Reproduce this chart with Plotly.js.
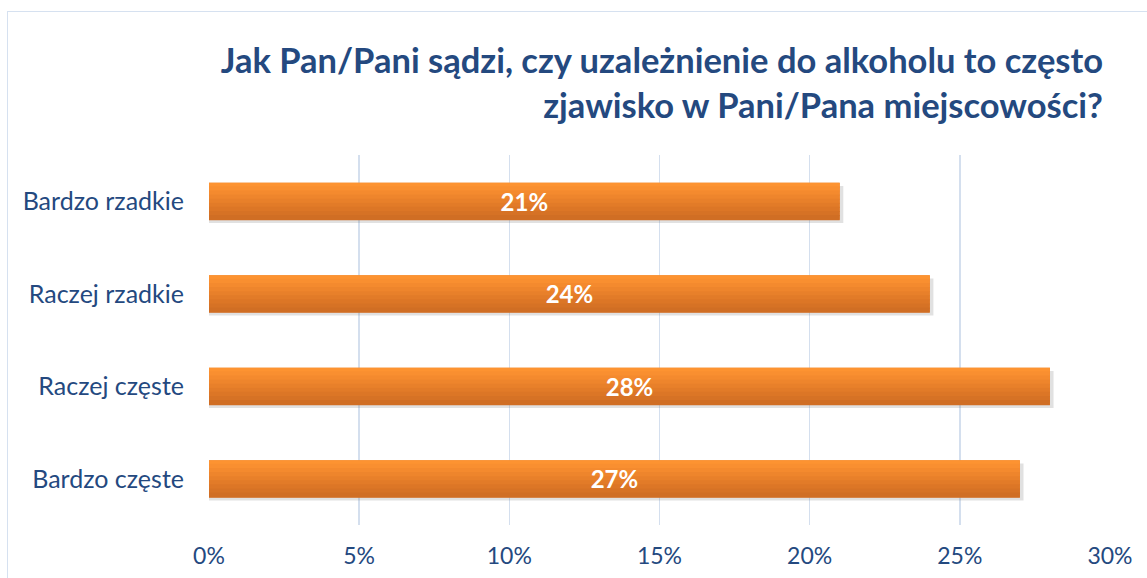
<!DOCTYPE html>
<html><head><meta charset="utf-8">
<script src="https://cdn.plot.ly/plotly-3.0.1.min.js"></script>
<style>body{margin:0;padding:0;overflow:hidden;background:#fff}#wrap{position:relative;width:1147px;height:578px}
#frame{position:absolute;left:7px;top:11px;width:1160px;height:600px;border:1.5px solid #D6E1F0;pointer-events:none;z-index:5}</style>
</head><body><div id="wrap"><div id="chart" style="width:1147px;height:578px"></div><div id="frame"></div></div>
<script>
const categories = ["Bardzo rzadkie", "Raczej rzadkie", "Raczej częste", "Bardzo częste"];
const values = [21, 24, 28, 27];
const tickVals = [0, 5, 10, 15, 20, 25, 30];
const tickText = ["0%", "5%", "10%", "15%", "20%", "25%", "30%"];

const FONT = "Lato, 'Open Sans', sans-serif";
const BLUE = "#24497F";
const barW = 0.4;
const stripeColors = ["#FD9331","#F98F30","#F48A2E","#EE852C","#E8802A","#E27B28","#DC7626","#D67225","#D06E24"];
const n = stripeColors.length;
const traces = [];
traces.push({type:'bar', orientation:'h', y:categories, x:values.map(v=>v+0.12), width:barW, offset:-barW/2+0.035,
  marker:{color:'rgba(120,120,120,0.22)', line:{width:0}}, hoverinfo:'skip', showlegend:false});
traces.push({type:'bar', orientation:'h', y:categories, x:values, width:barW, offset:-barW/2,
  marker:{color:'#E8802A', line:{width:0}}, hoverinfo:'skip', showlegend:false});
stripeColors.forEach((c,i)=>{
  traces.push({type:'bar', orientation:'h', y:categories, x:values, width:barW/n+0.012,
    offset:-barW/2 + i*barW/n - (i===0?0:0.006), marker:{color:c, line:{width:0}}, hoverinfo:'skip', showlegend:false});
});
traces.push({type:'bar', orientation:'h', y:categories, x:values, width:barW, offset:-barW/2,
  marker:{color:'rgba(0,0,0,0)', line:{width:0}}, text:values.map(v=>v+'%'), textposition:'inside',
  insidetextanchor:'middle', textangle:0,
  textfont:{family:FONT, size:24, color:'#FFFFFF', weight:'bold'}, showlegend:false});

const layout = {
  width:1147, height:578,
  margin:{l:209, r:37, t:155, b:53},
  paper_bgcolor:'#FFFFFF', plot_bgcolor:'#FFFFFF',
  barmode:'overlay',
  title:{text:"<b>Jak Pan/Pani sądzi, czy uzależnienie do alkoholu to często<br>zjawisko w Pani/Pana miejscowości?</b>",
    font:{family:FONT, size:34.5, color:BLUE}, xref:'container', x:1103/1147, xanchor:'right', align:'right',
    yref:'container', y:1-73/578, yanchor:'top'},
  xaxis:{range:[0,30], tickvals:tickVals, ticktext:tickText, showgrid:true, gridcolor:'#D4DFEE', gridwidth:1.5,
    zeroline:false, showline:false, ticks:'', ticklabelstandoff:15,
    tickfont:{family:FONT, size:23, color:BLUE}, fixedrange:true},
  yaxis:{autorange:'reversed', showgrid:false, zeroline:false, showline:false, ticks:'', ticklabelstandoff:24,
    tickfont:{family:FONT, size:25, color:BLUE}, fixedrange:true},
  font:{family:FONT}
};
Plotly.newPlot('chart', traces, layout, {displayModeBar:false, staticPlot:true});
</script></body></html>
